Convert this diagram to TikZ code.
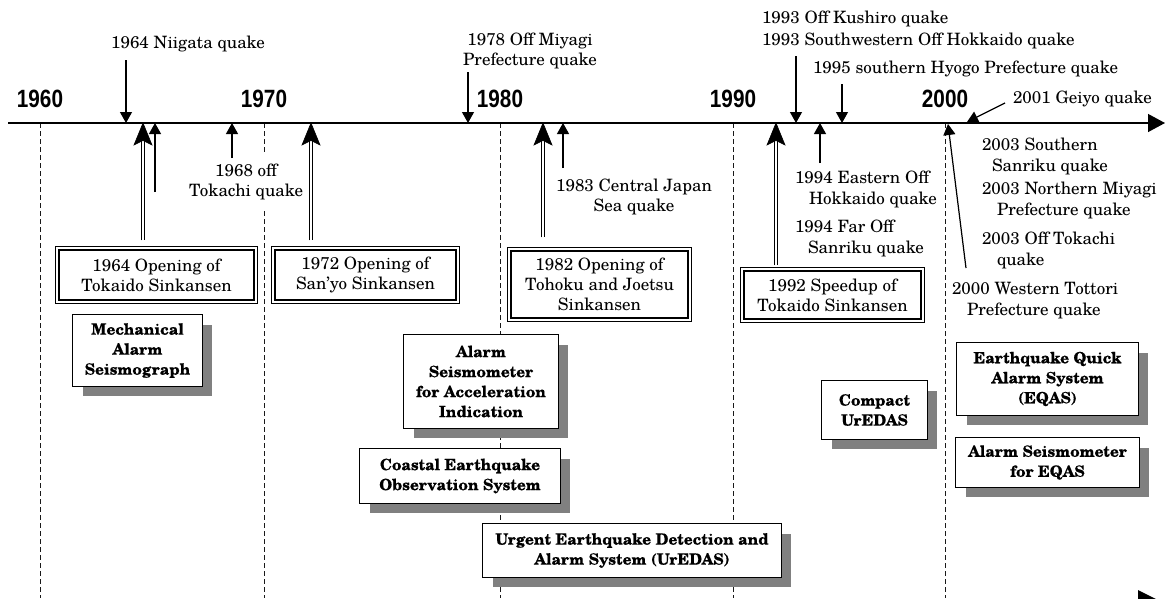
\documentclass[tikz,border=0pt]{standalone}
\usepackage{fontspec}
\setmainfont{TeX Gyre Schola}
\newfontfamily\yearfont[FakeStretch=0.83]{Liberation Sans}
\newfontfamily\boxfont[BoldFeatures={FakeBold=0.4}]{TeX Gyre Schola}
\usetikzlibrary{arrows.meta,shadows}
\begin{document}
\begin{tikzpicture}[x=1pt,y=-1pt,
  every node/.style={inner sep=0pt, outer sep=0pt},
  lbl/.style={font=\fontsize{17}{21}\selectfont, align=left, anchor=west},
  lblc/.style={font=\fontsize{17}{20.5}\selectfont, align=center},
  yr/.style={font=\yearfont\bfseries\fontsize{25}{25}\selectfont},
  rail/.style={draw, double, double distance=2pt, line width=1.3pt, fill=white, align=center, font=\fontsize{17}{20}\selectfont},
  sys/.style={draw, line width=1.2pt, fill=white, align=center, font=\boxfont\bfseries\fontsize{15.5}{20}\selectfont, drop shadow={shadow xshift=10pt, shadow yshift=-10pt, fill=gray, opacity=1}},
  yearline/.style={dash pattern=on 5pt off 3pt, line width=1pt, black!90},
  quake/.style={line width=1.2pt, -{Triangle[length=11pt,width=12pt]}},
  dblshaft/.style={double, double distance=1.7pt, line width=1.5pt},
  dbltip/.style={fill=black, draw=black, line width=0.6pt, line join=miter},
]
\useasboundingbox (0,0) rectangle (1165,598);
\coordinate (ax0) at (8,123);
\coordinate (ax1) at (1165,123);
\coordinate (bot) at (0,598);

% year labels
\node[yr] (y60) at (40,99) {1960};
\node[yr] (y70) at (264,99) {1970};
\node[yr] (y80) at (500,99) {1980};
\node[yr] (y90) at (733,99) {1990};
\node[yr] (y00) at (945,99) {2000};

% dashed year lines
\foreach \y in {y60,y70,y80,y90,y00}{
  \draw[yearline] (\y |- ax0) -- (\y |- bot);
}

% axis
\draw[line width=1.3pt, -{Triangle[length=17pt,width=18pt]}] (ax0) -- (ax1);
\fill (1138,590) -- (1160,601) -- (1138,612) -- cycle;

% railway boxes
\node[rail, minimum width=198.4pt, minimum height=53.4pt] (b64) at (156.5,275) {1964 Opening of\\Tokaido Sinkansen};
\node[rail, minimum width=184.4pt, minimum height=53.4pt] (b72) at (365.5,275) {1972 Opening of\\San'yo Sinkansen};
\node[rail, minimum width=180.4pt, minimum height=70.4pt] (b82) at (599.5,284.5) {1982 Opening of\\Tohoku and Joetsu\\Sinkansen};
\node[rail, minimum width=180.4pt, minimum height=51.4pt] (b92) at (832.5,295) {1992 Speedup of\\Tokaido Sinkansen};

% system boxes
\node[sys, minimum width=129.8pt, minimum height=71.8pt] (mech) at (137.5,350.5) {Mechanical\\Alarm\\Seismograph};
\node[sys, minimum width=154.8pt, minimum height=93.8pt] (asai) at (481,381.5) {Alarm\\Seismometer\\for Acceleration\\Indication};
\node[sys, minimum width=200.8pt, minimum height=54.8pt] (coast) at (460,476) {Coastal Earthquake\\Observation System};
\node[sys, minimum width=298.8pt, minimum height=53.8pt] (ured) at (632,550.5) {Urgent Earthquake Detection and\\Alarm System (UrEDAS)};
\node[sys, minimum width=105.8pt, minimum height=58.8pt] (comp) at (874.5,410) {Compact\\UrEDAS};
\node[sys, minimum width=181.8pt, minimum height=72.8pt] (eqas) at (1047.5,379) {Earthquake Quick\\Alarm System\\(EQAS)};
\node[sys, minimum width=183.8pt, minimum height=49.8pt] (aseq) at (1047.5,462.5) {Alarm Seismometer\\for EQAS};

% quake labels
\node[lblc] (q64) at (188,44) {1964 Niigata quake};
\node[lblc, fill=white, inner xsep=2pt, inner ysep=9pt] (q68) at (246,182) {1968 off\\Tokachi quake};
\node[lblc] (q78) at (530,51) {1978 Off Miyagi\\Prefecture quake};
\node[lblc] (q83) at (634,197) {1983 Central Japan\\Sea quake};
\node[lbl, font=\fontsize{17}{22}\selectfont] (q93) at (762,29.5) {1993 Off Kushiro quake\\1993 Southwestern Off Hokkaido quake};
\node[lbl] (q95) at (813,69) {1995 southern Hyogo Prefecture quake};
\node[lbl] (q01) at (1013,99) {2001 Geiyo quake};
\node[lbl] (q94a) at (795,189.5) {1994 Eastern Off\\\hspace*{14pt}Hokkaido quake};
\node[lbl] (q94b) at (795,238) {1994 Far Off\\\hspace*{13pt}Sanriku quake};
\node[lbl] (q03a) at (982,156.5) {2003 Southern\\\hspace*{10pt}Sanriku quake};
\node[lbl] (q03b) at (982,200.5) {2003 Northern Miyagi\\\hspace*{15pt}Prefecture quake};
\node[lbl] (q03c) at (982,250.5) {2003 Off Tokachi\\\hspace*{15pt}quake};
\node[lbl] (q00) at (952,300.5) {2000 Western Tottori\\\hspace*{15pt}Prefecture quake};

% quake arrow coordinates
\coordinate (t64s) at (126,60);  \coordinate (t64) at (126,123);
\coordinate (u64s) at (155,192); \coordinate (u64) at (155,123);
\coordinate (t68s) at (232,158); \coordinate (t68) at (232,123);
\coordinate (t78s) at (468,72);  \coordinate (t78) at (468,123);
\coordinate (t83s) at (563,168); \coordinate (t83) at (563,123);
\coordinate (t93s) at (796,56);  \coordinate (t93) at (796,123);
\coordinate (t95s) at (842,84);  \coordinate (t95) at (842,123);
\coordinate (t94s) at (820,163); \coordinate (t94) at (820,123);
\coordinate (t01s) at (1005,103); \coordinate (t01) at (967,122);
\coordinate (t00s) at (966,268); \coordinate (t00) at (948,124);

\draw[quake] (t64s) -- (t64);
\draw[quake] (u64s) -- (u64);
\draw[quake] (t68s) -- (t68);
\draw[quake] (t78s) -- (t78);
\draw[quake] (t83s) -- (t83);
\draw[quake] (t93s) -- (t93);
\draw[quake] (t95s) -- (t95);
\draw[quake] (t94s) -- (t94);
\draw[quake] (t01s) -- (t01);
\draw[quake] (t00s) -- (t00);

% double arrows (shaft + filled head)
\coordinate (d64) at (143,123);
\coordinate (d72) at (311,123);
\coordinate (d82) at (543,123);
\coordinate (d92) at (776,123);
\draw[dblshaft, shorten <=8pt, shorten >=16pt] (b64.north -| d64) -- (d64);
\draw[dblshaft, shorten <=8pt, shorten >=16pt] (b72.north -| d72) -- (d72);
\draw[dblshaft, shorten <=12pt, shorten >=16pt] (b82.north -| d82) -- (d82);
\draw[dblshaft, shorten <=4pt, shorten >=16pt] (b92.north -| d92) -- (d92);
\foreach \d in {d64,d72,d82,d92}{
  \filldraw[dbltip] (\d) -- ++(-9,22) -- ++(9,-4.5) -- ++(9,4.5) -- cycle;
}
\end{tikzpicture}
\end{document}
